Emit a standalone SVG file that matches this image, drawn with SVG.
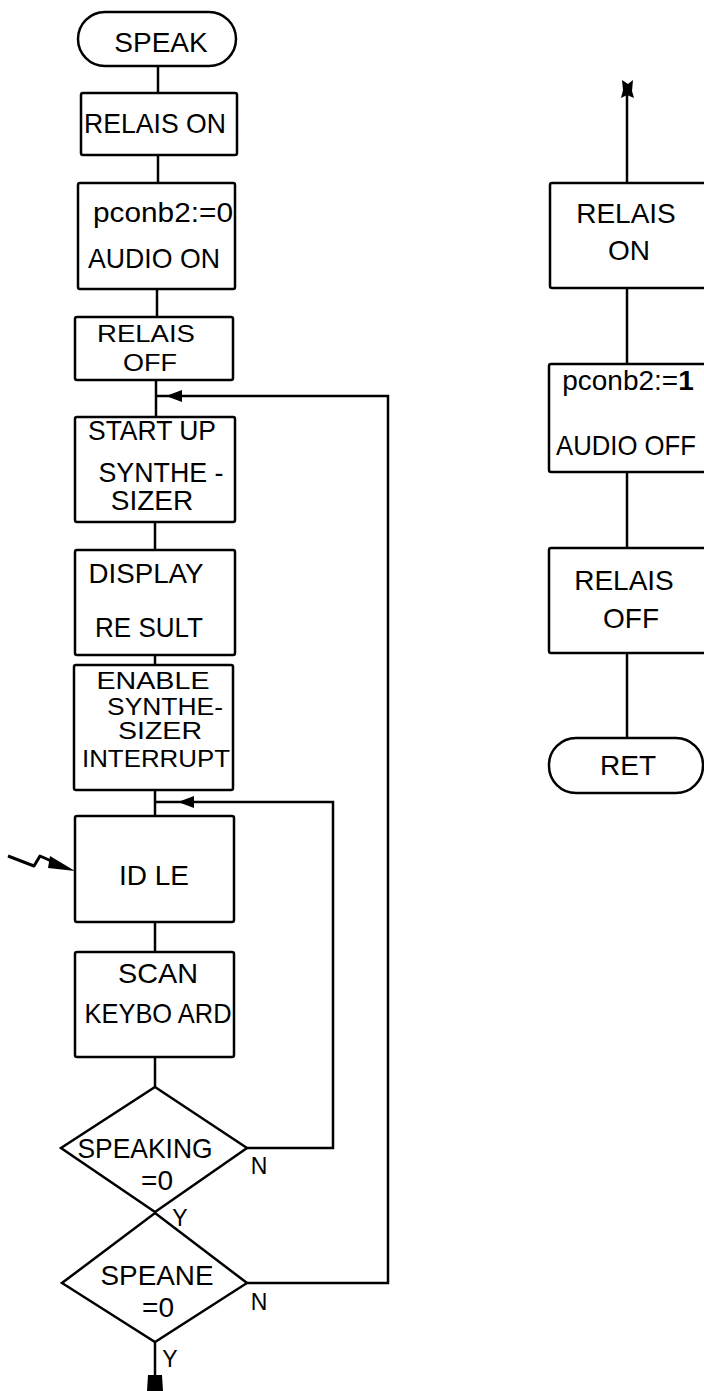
<svg xmlns="http://www.w3.org/2000/svg" width="704" height="1391" viewBox="0 0 704 1391">
<style>
.box{fill:none;stroke:#000;stroke-width:2.5}
.ln{fill:none;stroke:#000;stroke-width:2.5}
text{font-family:"Liberation Sans",Arial,sans-serif;font-size:28px;fill:#000;text-anchor:middle}
.lbl{font-size:23px}
.sm{font-size:24px}
</style>
<rect width="704" height="1391" fill="#fff"/>
<g id="connectors">
<line class="ln" x1="158" y1="66" x2="158" y2="93"/>
<line class="ln" x1="158" y1="155" x2="158" y2="183"/>
<line class="ln" x1="157" y1="289" x2="157" y2="317"/>
<line class="ln" x1="156" y1="380" x2="156" y2="417"/>
<line class="ln" x1="155" y1="522" x2="155" y2="550"/>
<line class="ln" x1="155" y1="655" x2="155" y2="665"/>
<line class="ln" x1="155" y1="790" x2="155" y2="816"/>
<line class="ln" x1="155" y1="922" x2="155" y2="952"/>
<line class="ln" x1="155" y1="1057" x2="155" y2="1087"/>
<line class="ln" x1="155" y1="1342" x2="155" y2="1376"/>
<path d="M148,1375 L162,1375 L163,1391 L147,1391 Z" fill="#000"/>
<polyline class="ln" points="247,1148 333,1148 333,802 155,802"/>
<path d="M178,802 L194,796 L194,808 Z" fill="#000"/>
<polyline class="ln" points="247,1283 388,1283 388,396 156,396"/>
<path d="M166,396 L182,390 L182,402 Z" fill="#000"/>
<polyline fill="none" stroke="#000" stroke-width="3" stroke-linejoin="round" points="8,856 34,866 40,856 58,864"/>
<path d="M50,856 L75,871 L48,868 Z" fill="#000"/>
<line class="ln" x1="627" y1="92" x2="627" y2="183"/>
<path d="M622,80 L628,84 L633,80 L632,91 L634,98 L627,95 L621,98 L623,90 Z" fill="#000"/>
<line class="ln" x1="627" y1="288" x2="627" y2="364"/>
<line class="ln" x1="627" y1="472" x2="627" y2="548"/>
<line class="ln" x1="627" y1="653" x2="627" y2="738"/>
<text class="lbl" x="259" y="1174">N</text>
<text class="lbl" x="259" y="1310">N</text>
<text class="lbl" x="180" y="1226">Y</text>
<text class="lbl" x="170" y="1367">Y</text>
</g>
<g id="speak">
<rect class="box" x="78" y="12" width="158" height="54" rx="27"/>
<text x="161" y="52">SPEAK</text>
</g>
<g id="relais-on">
<rect class="box" x="81" y="93" width="156" height="62" rx="2"/>
<text x="155" y="133" textLength="142" lengthAdjust="spacingAndGlyphs">RELAIS ON</text>
</g>
<g id="audio-on">
<rect class="box" x="78" y="183" width="157" height="106" rx="2"/>
<text x="163" y="222" textLength="140" lengthAdjust="spacingAndGlyphs">pconb2:=0</text>
<text x="154" y="268" textLength="132" lengthAdjust="spacingAndGlyphs">AUDIO ON</text>
</g>
<g id="relais-off">
<rect class="box" x="75" y="317" width="158" height="63" rx="2"/>
<text class="sm" x="146" y="342" textLength="98" lengthAdjust="spacingAndGlyphs">RELAIS</text>
<text class="sm" x="150" y="371" textLength="54" lengthAdjust="spacingAndGlyphs">OFF</text>
</g>
<g id="start-up">
<rect class="box" x="75" y="417" width="160" height="105" rx="2"/>
<text x="152" y="440" textLength="128" lengthAdjust="spacingAndGlyphs">START UP</text>
<text x="161" y="482" textLength="125" lengthAdjust="spacingAndGlyphs">SYNTHE -</text>
<text x="152" y="510">SIZER</text>
</g>
<g id="display">
<rect class="box" x="75" y="550" width="160" height="105" rx="2"/>
<text x="146" y="583" textLength="115" lengthAdjust="spacingAndGlyphs">DISPLAY</text>
<text x="149" y="637" textLength="108" lengthAdjust="spacingAndGlyphs">RE SULT</text>
</g>
<g id="enable">
<rect class="box" x="74" y="665" width="159" height="125" rx="2"/>
<text class="sm" x="153" y="689" textLength="113" lengthAdjust="spacingAndGlyphs">ENABLE</text>
<text class="sm" x="165" y="715" textLength="116" lengthAdjust="spacingAndGlyphs">SYNTHE-</text>
<text class="sm" x="160" y="739" textLength="84" lengthAdjust="spacingAndGlyphs">SIZER</text>
<text class="sm" x="156" y="767" textLength="148" lengthAdjust="spacingAndGlyphs">INTERRUPT</text>
</g>
<g id="idle">
<rect class="box" x="75" y="816" width="159" height="106" rx="2"/>
<text x="154" y="885">ID LE</text>
</g>
<g id="scan">
<rect class="box" x="75" y="952" width="159" height="105" rx="2"/>
<text x="158" y="983" textLength="80" lengthAdjust="spacingAndGlyphs">SCAN</text>
<text x="158" y="1023" textLength="147" lengthAdjust="spacingAndGlyphs">KEYBO ARD</text>
</g>
<g id="speaking">
<polygon class="box" points="155,1087 247,1148 155,1212 61,1148"/>
<text x="145" y="1158" textLength="135" lengthAdjust="spacingAndGlyphs">SPEAKING</text>
<text x="157" y="1190">=0</text>
</g>
<g id="speane">
<polygon class="box" points="155,1213 247,1283 155,1342 62,1283"/>
<text x="157" y="1285" textLength="113" lengthAdjust="spacingAndGlyphs">SPEANE</text>
<text x="158" y="1317">=0</text>
</g>
<g id="r-relais-on">
<rect class="box" x="550" y="183" width="180" height="105" rx="2"/>
<text x="626" y="223">RELAIS</text>
<text x="629" y="260">ON</text>
</g>
<g id="r-audio-off">
<rect class="box" x="549" y="364" width="180" height="108" rx="2"/>
<text x="628" y="390">pconb2:=<tspan font-weight="bold">1</tspan></text>
<text x="626" y="455" textLength="140" lengthAdjust="spacingAndGlyphs">AUDIO OFF</text>
</g>
<g id="r-relais-off">
<rect class="box" x="549" y="548" width="180" height="105" rx="2"/>
<text x="624" y="590">RELAIS</text>
<text x="631" y="628">OFF</text>
</g>
<g id="ret">
<rect class="box" x="549" y="738" width="154" height="55" rx="27"/>
<text x="628" y="775">RET</text>
</g>
</svg>
